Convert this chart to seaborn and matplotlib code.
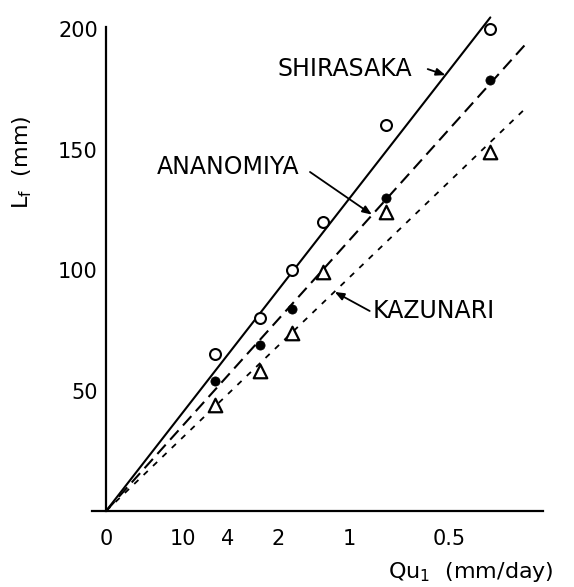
import numpy as np
import pandas as pd
import matplotlib
matplotlib.use("Agg")
import matplotlib.pyplot as plt
import seaborn as sns

# Observed lag Lf (mm) against unit discharge Qu1 (mm/day) for three basins
qu = [5, 2.5, 1.7, 1.25, 0.75, 0.4]
shirasaka = [65, 80, 100, 120, 160, 200]
ananomiya = [54, 69, 84, np.nan, 130, 179]
kazunari = [44, 58, 74, 99, 124, 149]

# Fitted lines through the origin: Lf = slope * Qu1^(-1/2), drawn up to line_end
sites = ["SHIRASAKA", "ANANOMIYA", "KAZUNARI"]
slopes = [129.4, 112.1, 96.7]
line_ends = [1.583, 1.727, 1.735]

qu_ticks = [10, 4, 2, 1, 0.5]
qu_tick_labels = ["10", "4", "2", "1", "0.5"]
lf_ticks = [50, 100, 150, 200]

sns.set_style("white")
plt.rcParams["font.family"] = ["DejaVu Sans"]
plt.rcParams["mathtext.default"] = "regular"
plt.rcParams["text.color"] = "black"
plt.rcParams["axes.labelcolor"] = "black"


def to_axis(q):
    """Horizontal axis is scaled as Qu1^(-1/2)."""
    return 1.0 / np.sqrt(np.asarray(q, dtype=float))


fig = plt.figure(figsize=(5.74, 5.87), dpi=100)
ax = fig.add_axes([0.1603, 0.1295, 0.7857, 0.862])

x_pts = to_axis(qu)
points = pd.DataFrame({
    "x": np.concatenate([x_pts] * 3),
    "Lf": np.concatenate([shirasaka, ananomiya, kazunari]),
    "site": np.repeat(sites, len(qu)),
})

# fitted lines
styles = ["-", (0, (6.0, 3.2)), (0, (3.2, 4.0))]
widths = [1.5, 1.5, 1.3]
for site, k, end, ls, lw in zip(sites, slopes, line_ends, styles, widths):
    xs = np.array([0.0, end])
    sns.lineplot(x=xs, y=k * xs, ax=ax, color="black", linestyle=ls,
                 linewidth=lw, clip_on=False)

# observations
sub = points[points.site == "SHIRASAKA"]
sns.scatterplot(data=sub, x="x", y="Lf", ax=ax, marker="o", s=62,
                facecolor="white", edgecolor="black", linewidth=1.5, zorder=3)
sub = points[points.site == "ANANOMIYA"].dropna()
sns.scatterplot(data=sub, x="x", y="Lf", ax=ax, marker="o", s=44,
                color="black", edgecolor="black", linewidth=0.5, zorder=3)
sub = points[points.site == "KAZUNARI"]
sns.scatterplot(data=sub, x="x", y="Lf", ax=ax, marker="^", s=95,
                facecolor="white", edgecolor="black", linewidth=1.6, zorder=3)

# labels with arrows
arrow = dict(arrowstyle="-|>,head_length=0.55,head_width=0.22", color="black",
             lw=1.3, shrinkA=0, shrinkB=0)
fs = 17
ax.text(0.708, 183.4, "SHIRASAKA", fontsize=fs, ha="left", va="center")
ax.annotate("", xy=(1.398, 180.9), xytext=(1.325, 183.4), arrowprops=arrow)
ax.text(0.21, 142.7, "ANANOMIYA", fontsize=fs, ha="left", va="center")
ax.annotate("", xy=(1.095, 123.0), xytext=(0.84, 140.7), arrowprops=arrow)
ax.text(1.099, 83.0, "KAZUNARI", fontsize=fs, ha="left", va="center")
ax.annotate("", xy=(0.942, 90.9), xytext=(1.086, 83.0), arrowprops=arrow)

# axes
ax.set_xlim(-0.058, 1.80)
ax.set_ylim(0, 210)
ax.spines["left"].set_position(("data", 0))
ax.spines["left"].set_bounds(0, 200.8)
for side in ("top", "right"):
    ax.spines[side].set_visible(False)
for side in ("left", "bottom"):
    ax.spines[side].set_linewidth(1.6)
    ax.spines[side].set_color("black")

ax.set_xticks(np.concatenate([[0.0], to_axis(qu_ticks)]))
ax.set_xticklabels(["0"] + qu_tick_labels)
ax.set_yticks(lf_ticks)
ax.set_yticklabels([str(v) for v in lf_ticks])
ax.tick_params(axis="x", direction="in", length=4, width=1.3, pad=13,
               labelsize=15, colors="black")
ax.tick_params(axis="y", direction="in", length=4, width=1.3, pad=6,
               labelsize=15, colors="black")
# the origin tick is carried by the vertical axis itself
ax.xaxis.get_major_ticks()[0].tick1line.set_visible(False)

ax.set_xlabel("Qu$_1$  (mm/day)", fontsize=16)
ax.xaxis.set_label_coords(0.84, -0.12)
ax.xaxis.label.set_va("center")
ax.set_ylabel("L$_f$  (mm)", fontsize=16)
ax.yaxis.set_label_coords(-0.155, 0.69)
ax.yaxis.label.set_va("center")

fig.savefig("out.png", dpi=100)
